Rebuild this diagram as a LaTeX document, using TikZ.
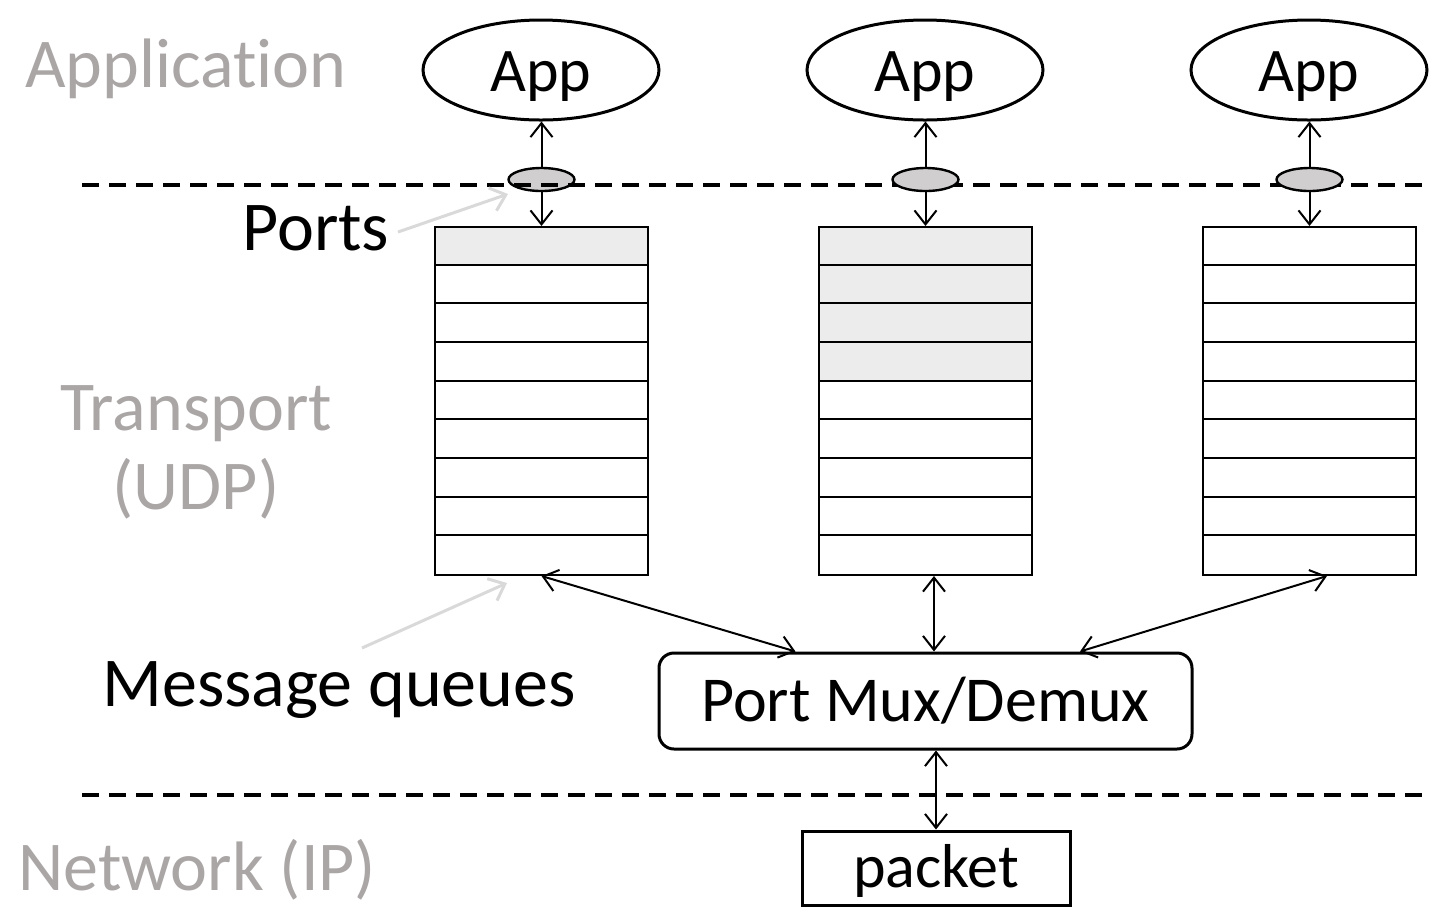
\documentclass[tikz,border=0pt]{standalone}
\usepackage{fontspec}
\setmainfont{Carlito}[Ligatures={NoCommon}]
\usetikzlibrary{arrows.meta,shapes.geometric,calc}
\definecolor{layergray}{RGB}{171,166,166}
\definecolor{pointgray}{RGB}{217,217,217}
\definecolor{portfill}{RGB}{208,206,206}
\definecolor{slotfill}{RGB}{236,236,236}
\begin{document}
\begin{tikzpicture}[x=0.5pt,y=-0.5pt,
  layer/.style={text=layergray, font=\fontsize{35}{40}\selectfont, inner sep=0},
  note/.style={text=black, font=\fontsize{35}{40}\selectfont, inner sep=0},
  app/.style={ellipse, draw, line width=1.5pt, minimum width=118pt, minimum height=50pt, inner sep=0, text height=26pt, font=\fontsize{31}{36}\selectfont},
  port/.style={ellipse, draw, line width=1.2pt, fill=portfill, minimum width=33pt, minimum height=11.5pt, inner sep=0},
  queue/.style={rectangle, draw, line width=1pt, minimum width=106.5pt, minimum height=174pt, inner sep=0},
  tip/.tip={Straight Barb[length=7pt,width=11pt,line width=1pt]},
  link/.style={line width=1pt, -tip},
  both/.style={line width=1pt, tip-tip},
  pointer/.style={draw=pointgray, line width=1.5pt, -{Straight Barb[length=7pt,width=12pt,line width=1.5pt]}},
  layerline/.style={line width=2pt, dash pattern=on 8.5pt off 5pt},
]
\useasboundingbox (0,0) rectangle (1432,907);

% layer labels
\node[layer, anchor=base west] (lapp) at (25,87) {Application};
\node[layer, anchor=base] (ltr) at (196,430) {Transport};
\node[layer, anchor=base] (ludp) at (196,509) {(UDP)};
\node[layer, anchor=base west] (lnet) at (18,890) {Network (IP)};

% apps
\node[app] (app1) at (541,70) {App};
\node[app] (app2) at (925,70) {App};
\node[app] (app3) at (1309,70) {App};

% ports
\node[port] (port1) at (541.5,179.5) {};
\coordinate (dl1a) at (82,185);
\coordinate (dl1b) at (1432,185);
\draw[layerline] (dl1a) -- (dl1b);
\node[port] (port2) at (925.5,179.5) {};
\node[port] (port3) at (1309.5,179.5) {};

% queue fills
\fill[slotfill] (435,227) rectangle (648,265.67);
\fill[slotfill] (819,227) rectangle (1032,381.67);

% queues
\node[queue] (q1) at (541.5,401) {};
\node[queue] (q2) at (925.5,401) {};
\node[queue] (q3) at (1309.5,401) {};
\foreach \q in {q1,q2,q3}{
  \foreach \i in {1,...,8}{
    \draw[line width=1pt] ($(\q.north west)+(0,\i*38.667)$) -- ($(\q.north east)+(0,\i*38.667)$);
  }
}

% port arrows
\draw[link] (port1.north) -- (port1.north |- app1.south);
\draw[link] (port1.south) -- (q1.north);
\draw[link] (port2.north) -- (port2.north |- app2.south);
\draw[link] (port2.south) -- (q2.north);
\draw[link] (port3.north) -- (port3.north |- app3.south);
\draw[link] (port3.south) -- (q3.north);

% mux and packet
\node[draw, rounded corners=7.5pt, line width=1.5pt, minimum width=266.5pt, minimum height=48pt, inner sep=0, font=\fontsize{32}{36}\selectfont] (mux) at (925.5,701) {Port Mux/Demux};
\node[draw, line width=1.5pt, minimum width=134pt, minimum height=37pt, inner sep=0, text height=24pt, font=\fontsize{31}{36}\selectfont] (packet) at (936,868) {packet};

\draw[both] (q1.south) -- ($(mux.north)+(-130,0)$);
\draw[both] ($(q2.south)+(8.5,0)$) -- ($(mux.north)+(8.5,0)$);
\draw[both] ($(q3.south)+(17.5,0)$) -- ($(mux.north)+(154.5,0)$);
\draw[both] (mux.south -| packet.north) -- (packet.north);

\coordinate (dl2a) at (82,795);
\coordinate (dl2b) at (1432,795);
\draw[layerline] (dl2a) -- (dl2b);

% notes
\node[note, anchor=base west] (lports) at (242,250) {Ports};
\node[note, anchor=base west] (lmsg) at (102,706) {Message queues};
\coordinate (ps) at (398,232);
\coordinate (pe) at (508,194);
\draw[pointer] (ps) -- (pe);
\coordinate (ms) at (362,648);
\coordinate (me) at (507,583);
\draw[pointer] (ms) -- (me);
\end{tikzpicture}
\end{document}
